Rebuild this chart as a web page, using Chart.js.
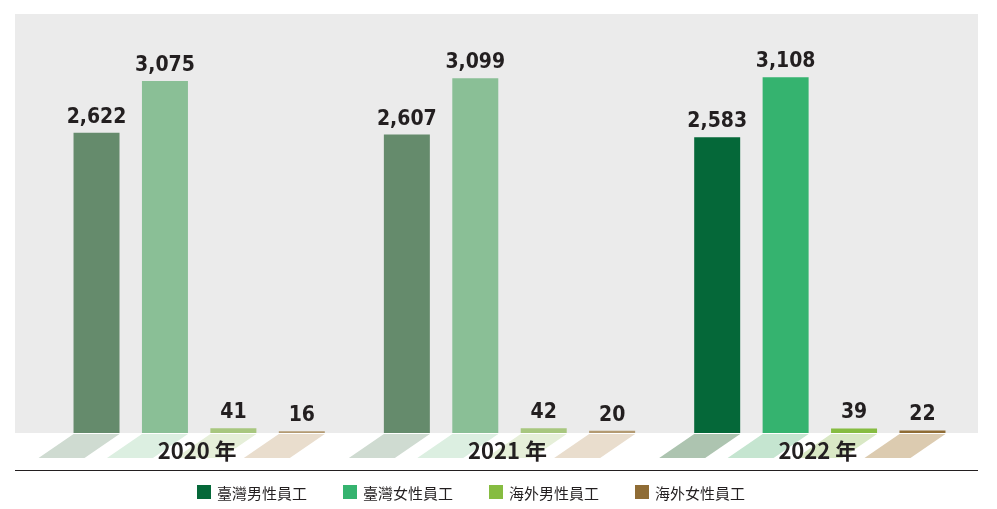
<!doctype html>
<html>
<head>
<meta charset="utf-8">
<script src="https://cdn.jsdelivr.net/npm/chart.js@4.4.9/dist/chart.umd.min.js"></script>
<style>body{margin:0;background:#fff}#wrap{width:997px;height:509px}</style>
<script>
const years = ['2020 年', '2021 年', '2022 年'];
const seriesNames = ['臺灣男性員工', '臺灣女性員工', '海外男性員工', '海外女性員工'];
const twMale = [2622, 2607, 2583];
const twFemale = [3075, 3099, 3108];
const osMale = [41, 42, 39];
const osFemale = [16, 20, 22];

const fullColors = ['#056839', '#35b36f', '#86bc41', '#8f6c35'];
const fadeColors = ['#658b6c', '#8abf96', '#a8c77f', '#b39a72'];
const shadowFull = ['#adc4b0', '#c5e5d0', '#d9e8c5', '#dccbb0'];
const shadowFade = ['#cfdbd1', '#dcefe1', '#e6efd9', '#e9ddcd'];

function go() {
  const values = [twMale, twFemale, osMale, osFemale];
  const datasets = values.map((v, i) => ({
    label: seriesNames[i],
    data: v,
    backgroundColor: years.map((y, j) => j === 2 ? fullColors[i] : fadeColors[i]),
    barPercentage: 0.672,
    categoryPercentage: 0.882,
  }));

  const deco = {
    id: 'deco',
    beforeDraw(chart) {
      const c = chart.ctx;
      c.save();
      c.fillStyle = '#ebebeb';
      c.fillRect(15, 14, 963, chart.chartArea.bottom - 14);
      c.restore();
    },
    afterDraw(chart) {
      const c = chart.ctx;
      const bottom = chart.chartArea.bottom;
      c.save();
      // shadows
      chart.data.datasets.forEach((ds, i) => {
        chart.getDatasetMeta(i).data.forEach((bar, j) => {
          const l = bar.x - bar.width / 2, r = bar.x + bar.width / 2;
          c.fillStyle = j === 2 ? shadowFull[i] : shadowFade[i];
          c.beginPath();
          c.moveTo(l, bottom + 1);
          c.lineTo(r, bottom + 1);
          c.lineTo(r - 35, bottom + 25);
          c.lineTo(l - 35, bottom + 25);
          c.closePath();
          c.fill();
          // value label
          c.fillStyle = '#231f20';
          c.font = 'bold 21px "Liberation Sans Narrow", "DejaVu Sans Condensed", sans-serif';
          c.textAlign = 'center';
          c.textBaseline = 'bottom';
          c.fillText(ds.data[j].toLocaleString('en-US'), bar.x, bar.y - 5);
        });
      });
      // year labels
      const xs = chart.scales.x;
      c.fillStyle = '#231f20';
      c.font = 'bold 22px "Noto Sans CJK TC", sans-serif';
      c.textAlign = 'center';
      c.textBaseline = 'middle';
      years.forEach((y, j) => c.fillText(y, xs.getPixelForValue(j) - 2, bottom + 18));
      // separator
      c.strokeStyle = '#231f20';
      c.lineWidth = 1.2;
      c.beginPath();
      c.moveTo(15, 470.5);
      c.lineTo(978, 470.5);
      c.stroke();
      // legend
      c.font = '15px "Noto Sans CJK TC", sans-serif';
      c.textAlign = 'left';
      seriesNames.forEach((n, i) => {
        const x = 197 + i * 146;
        c.fillStyle = fullColors[i];
        c.fillRect(x, 485, 14, 14);
        c.fillStyle = '#231f20';
        c.fillText(n, x + 20, 493);
      });
      c.restore();
    }
  };

  new Chart(document.getElementById('c'), {
    type: 'bar',
    data: { labels: years, datasets },
    options: {
      responsive: false,
      animation: false,
      layout: { padding: { left: 44, right: 22, top: 14, bottom: 76 } },
      scales: {
        x: { display: false },
        y: { display: false, min: 0, max: 3660 }
      },
      plugins: { legend: { display: false }, tooltip: { enabled: false } }
    },
    plugins: [deco]
  });
}
window.onload = go;
</script>
</head>
<body>
<div id="wrap"><canvas id="c" width="997" height="509"></canvas></div>
</body>
</html>
